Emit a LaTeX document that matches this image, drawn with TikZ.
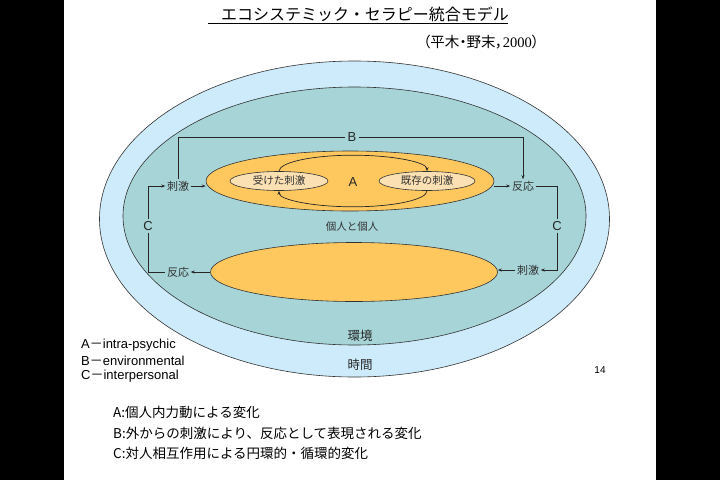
\documentclass[tikz,border=0pt]{standalone}
\usepackage{fontspec}
\setmainfont{Liberation Sans}
\newfontfamily\jp{Noto Sans CJK JP}
\newfontfamily\jpp[RawFeature=+palt]{Noto Sans CJK JP}
\newfontfamily\serifnum{Liberation Serif}
\usetikzlibrary{shapes.geometric,arrows.meta}
\definecolor{skyring}{RGB}{205,235,250}
\definecolor{tealfill}{RGB}{166,212,215}
\definecolor{orangefill}{RGB}{255,200,95}
\definecolor{beigefill}{RGB}{250,224,178}
\tikzset{
  ell/.style={ellipse, draw=black!80, line width=0.6pt, inner sep=0pt},
  conn/.style={draw=black!85, line width=0.7pt},
  tip/.style={-{Stealth[length=4pt,width=3pt]}},
  lab/.style={font=\jp\fontsize{11}{11}\selectfont, text=black!80, inner sep=1.5pt},
  small/.style={font=\jp\fontsize{10.5}{10.5}\selectfont, text=black!80},
  letter/.style={font=\fontsize{13}{13}\selectfont, text=black!85, inner sep=2pt},
  legend/.style={font=\fontsize{13}{13}\selectfont, anchor=west, inner sep=0pt},
  bottomtxt/.style={font=\jp\fontsize{13.5}{13.5}\selectfont, anchor=west, inner sep=0pt}
}
\begin{document}
\begin{tikzpicture}[x=1pt,y=-1pt]
\useasboundingbox (0,0) rectangle (720,480);
\fill[white] (0,0) rectangle (720,480);
\fill[black] (0,0) rectangle (64,480);
\fill[black] (656,0) rectangle (720,480);

% title
\node[font=\jp\fontsize{16}{16}\selectfont] (title) at (365,14) {エコシステミック・セラピー統合モデル};
\draw[line width=0.8pt] (208,23) -- (508,23);
\node[font=\jpp\fontsize{14.5}{15}\selectfont, anchor=west, inner sep=0pt] (cite) at (423,42) {（平木・野末，{\serifnum 2000}）};

% ellipses
\node[ell, fill=skyring, minimum width=510pt, minimum height=316pt] (time) at (354.5,219) {};
\node[ell, fill=tealfill, minimum width=463pt, minimum height=258pt] (env) at (354.5,216) {};
\node[ell, fill=orangefill, minimum width=288pt, minimum height=60pt] (ind1) at (350,181) {};
\node[ell, fill=orangefill, minimum width=287pt, minimum height=59pt] (ind2) at (354,272) {};
\node[ell, fill=beigefill, minimum width=98pt, minimum height=19pt, small] (recv) at (279,181) {受けた刺激};
\node[ell, fill=beigefill, minimum width=96pt, minimum height=19pt, small] (exist) at (427,181) {既存の刺激};
\node[letter] (A) at (353,182) {A};

% inner loop
\draw[conn, tip] (recv.north) arc[start angle=180, end angle=0, x radius=74pt, y radius=16pt];
\draw[conn, tip] (exist.south) arc[start angle=0, end angle=-180, x radius=74pt, y radius=16pt];

% labels
\node[lab] (s1) at (178,186) {刺激};
\node[lab] (r1) at (523,186) {反応};
\node[lab] (r2) at (178,272) {反応};
\node[lab] (s2) at (528,270) {刺激};
\node[letter] (B) at (352,137) {B};
\node[letter] (CL) at (148,226) {C};
\node[letter] (CR) at (557,226) {C};
\node[small] (pair) at (352,227) {個人と個人};
\node[font=\jp\fontsize{12.5}{12.5}\selectfont, text=black!85] (envl) at (360,336) {環境};
\node[font=\jp\fontsize{12.5}{12.5}\selectfont, text=black!85] (timel) at (360,365) {時間};

% connectors
\draw[conn] (s1.north) |- (B.west);
\draw[conn, tip] (B.east) -| (r1.north);
\draw[conn, tip] (CL.north) |- (s1.west);
\draw[conn] (CL.south) |- (r2.west);
\draw[conn] (r1.east) -| (CR.north);
\draw[conn, tip] (CR.south) |- (s2.east);
\draw[conn, tip] (s1.east) -- (s1.east -| ind1.west);
\draw[conn, tip] (ind1.east |- r1.west) -- (r1.west);
\draw[conn, tip] (ind2.west |- r2.east) -- (r2.east);
\draw[conn, tip] (s2.west) -- (s2.west -| ind2.east);

% legend
\node[legend] (la) at (81,345) {A{\jp －}intra-psychic};
\node[legend] (lb) at (81,360.5) {B{\jp －}environmental};
\node[legend] (lc) at (81,376) {C{\jp －}interpersonal};
\node[font=\fontsize{10}{10}\selectfont] (page) at (600,370) {14};

% bottom text
\node[bottomtxt] (ta) at (113,412) {A:個人内力動による変化};
\node[bottomtxt] (tb) at (113,433) {B:外からの刺激により、反応として表現される変化};
\node[bottomtxt] (tc) at (113,453) {C:対人相互作用による円環的・循環的変化};
\end{tikzpicture}
\end{document}
